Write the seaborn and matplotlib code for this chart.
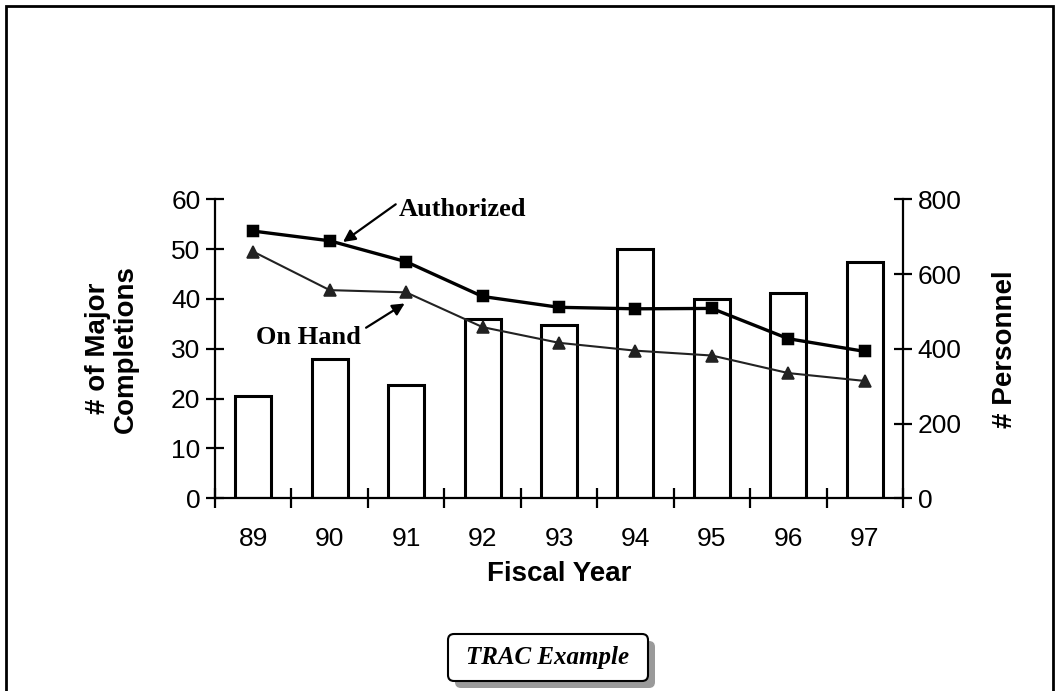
import numpy as np
import pandas as pd
import seaborn as sns
import matplotlib
matplotlib.use("Agg")
import matplotlib.pyplot as plt
from matplotlib.patches import Rectangle, FancyBboxPatch

# ---- data ----
years = ["89", "90", "91", "92", "93", "94", "95", "96", "97"]
completions = [20.5, 28, 22.7, 36, 34.7, 50, 40, 41.2, 47.5]
authorized = [715, 689, 633, 540, 511, 507, 508, 427, 393]
on_hand = [660, 557, 551, 458, 416, 395, 382, 335, 314]
left_ticks = [0, 10, 20, 30, 40, 50, 60]
right_ticks = [0, 200, 400, 600, 800]

df = pd.DataFrame({"year": years, "completions": completions,
                   "authorized": authorized, "on_hand": on_hand})

sns.set_theme(style="white")
plt.rcParams["font.family"] = ["Liberation Sans", "DejaVu Sans"]
plt.rcParams["text.color"] = "black"
plt.rcParams["axes.labelcolor"] = "black"
plt.rcParams["xtick.color"] = "black"
plt.rcParams["ytick.color"] = "black"

W, H = 1063, 691
fig = plt.figure(figsize=(W / 100, H / 100), dpi=100)
ax = fig.add_axes([215 / W, 1 - 498.3 / H, (903 - 215) / W, (498.3 - 199.3) / H])
ax2 = ax.twinx()

sns.barplot(data=df, x="year", y="completions", ax=ax, color="white",
            edgecolor="black", linewidth=2.2, width=0.47, saturation=1)

sns.pointplot(data=df, x="year", y="authorized", ax=ax2, color="black",
              markers="s", linestyles="-", markersize=7.5, linewidth=2.4)
sns.pointplot(data=df, x="year", y="on_hand", ax=ax2, color="#222222",
              markers="^", linestyles="-", markersize=8, linewidth=1.5)

ax.set_xlim(-0.5, len(years) - 0.5)
ax.set_ylim(0, 60)
ax2.set_ylim(0, 800)
ax.set_yticks(left_ticks)
ax2.set_yticks(right_ticks)

for a in (ax, ax2):
    for s in a.spines.values():
        s.set_visible(False)
    a.set_facecolor("none")
    a.grid(False)
ax.spines["left"].set_visible(True)
ax.spines["bottom"].set_visible(True)
ax2.spines["right"].set_visible(True)
for s in (ax.spines["left"], ax.spines["bottom"], ax2.spines["right"]):
    s.set_linewidth(1.6)
    s.set_color("black")

# x ticks at category boundaries, labels centered
ax.set_xticks(np.arange(-0.5, len(years)), labels=[""] * (len(years) + 1))
ax.set_xticks(np.arange(len(years)), labels=years, minor=True)
ax.tick_params(axis="x", which="major", direction="inout", length=15, width=1.6,
               color="black", bottom=True)
ax.tick_params(axis="x", which="minor", length=0, pad=21, labelsize=19)
ax.tick_params(axis="y", direction="inout", length=13, width=1.6, color="black",
               left=True, labelsize=19, pad=4)
ax2.tick_params(axis="y", direction="inout", length=13, width=1.6, color="black",
                right=True, labelsize=19, pad=4)
ax2.tick_params(axis="x", bottom=False, labelbottom=False)

ax.set_xlabel("Fiscal Year", fontsize=20, fontweight="bold", labelpad=7)
ax.set_ylabel("# of Major\nCompletions", fontsize=20, fontweight="bold",
              labelpad=23, linespacing=1.1)
ax2.set_ylabel("# Personnel", fontsize=20, fontweight="bold", labelpad=22)

# annotations
serif = ["Liberation Serif", "DejaVu Serif"]
ax.annotate("Authorized", xy=(343 / W, 1 - 242 / H), xycoords="figure fraction",
            xytext=(399 / W, 1 - 210 / H), textcoords="figure fraction",
            fontsize=19, fontweight="bold", family=serif, va="center", ha="left",
            arrowprops=dict(arrowstyle="-|>", color="black", lw=1.6,
                            mutation_scale=18, shrinkA=0, shrinkB=0,
                            relpos=(0.0, 0.85)))
ax.annotate("On Hand", xy=(407 / W, 1 - 302 / H), xycoords="figure fraction",
            xytext=(308 / W, 1 - 337 / H), textcoords="figure fraction",
            fontsize=19, fontweight="bold", family=serif, va="center", ha="center",
            arrowprops=dict(arrowstyle="-|>", color="black", lw=1.6,
                            mutation_scale=18, shrinkA=2, shrinkB=2,
                            relpos=(1.0, 0.75)))

# TRAC Example box with shadow
bx0, bx1, by0, by1 = 448, 648, 634, 681
shadow = FancyBboxPatch((bx0 + 7, H - by1 - 7), bx1 - bx0, by1 - by0,
                        boxstyle="round,pad=0,rounding_size=6",
                        transform=None, facecolor="#9a9a9a", edgecolor="none")
box = FancyBboxPatch((bx0, H - by1), bx1 - bx0, by1 - by0,
                     boxstyle="round,pad=0,rounding_size=6",
                     transform=None, facecolor="white", edgecolor="black", lw=1.5)
fig.patches.extend([shadow, box])
fig.text((bx0 + bx1) / 2 / W, 1 - (by0 + by1) / 2 / H, "TRAC Example",
         fontsize=18, fontweight="bold", fontstyle="italic", family=serif,
         ha="center", va="center")

# outer frame
frame = Rectangle((6 / W, -0.01), (1053 - 6) / W, 1 - 5.5 / H + 0.01,
                  transform=fig.transFigure, fill=False, edgecolor="black", lw=2)
fig.patches.append(frame)

fig.savefig("out.png", dpi=100)
